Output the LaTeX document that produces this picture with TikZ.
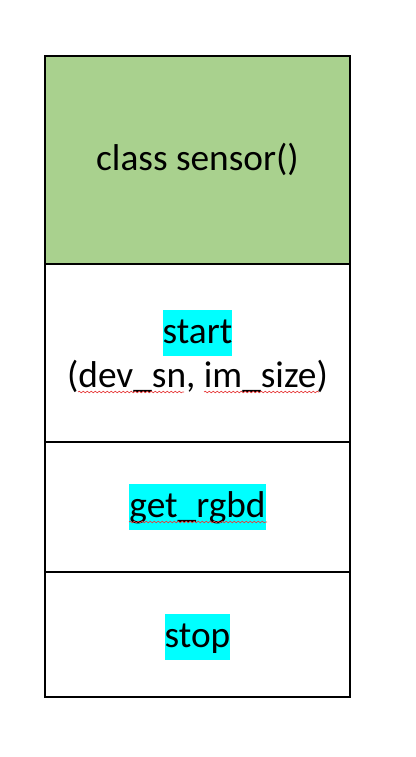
\documentclass[tikz,border=0pt]{standalone}
\usepackage{fontspec}
\setmainfont{Carlito}
\usetikzlibrary{decorations.pathmorphing}

\tikzset{
  label text/.style={font=\fontsize{28}{34}\selectfont, inner sep=0pt, anchor=base},
  hl text/.style={label text, fill={rgb, 255:red, 0; green, 255; blue, 255}, text height=22.5pt, text depth=7.5pt, inner ysep=2.25pt},
  spell line/.style={draw={rgb, 255:red, 230; green, 60; blue, 60}, line width=0.5pt, decorate, decoration={snake, segment length=3pt, amplitude=0.6pt}}
}

\begin{document}
\begin{tikzpicture}[x=0.75pt,y=0.75pt,yscale=-1,xscale=1]
\useasboundingbox (0,0) rectangle (415,757);
%Shape: Rectangle [id:head]
\draw [fill={rgb, 255:red, 169; green, 209; blue, 142 }, line width=1pt] (45,56) rectangle (350,264) ;
%Shape: Rectangle [id:body]
\draw [line width=1pt] (45,264) rectangle (350,697) ;
%Straight Lines [id:sep1]
\draw [line width=1pt] (45,442) -- (350,442) ;
%Straight Lines [id:sep2]
\draw [line width=1pt] (45,572) -- (350,572) ;

% Text Node
\node (cls) [label text] at (197.5,170) {class sensor()};
% Text Node
\node (start) [hl text] at (197.5,343) {start};
% Text Node
\node (args) [label text] at (197.5,387) {(dev\_sn, im\_size)};
% Text Node
\node (rgbd) [hl text] at (197.5,517) {get\_rgbd};
% Text Node
\node (stop) [hl text] at (197.5,647) {stop};

%Spell marks
\draw [spell line] (78,392) -- (184,392) ;
\draw [spell line] (204,392) -- (319,392) ;
\draw [spell line] (129,522) -- (267,522) ;

\end{tikzpicture}
\end{document}
